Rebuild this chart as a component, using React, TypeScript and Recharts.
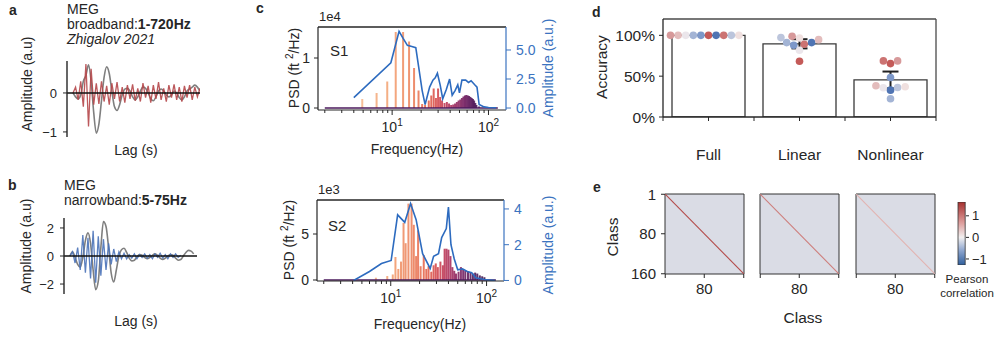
import React from "react";
import {
  ComposedChart,
  Line,
  Bar,
  Scatter,
  XAxis,
  YAxis,
  ReferenceLine,
  ReferenceArea,
  ErrorBar,
} from "recharts";

const FONT = '"Liberation Sans", Arial, Helvetica, sans-serif';
const INK = "#262626";
const AMP_BLUE = "#3b73c0";

// ---------------- a / b : lagged responses (a.u.), sampled every 10 ms ----------------
const LAG_STEP = 0.01;
const lagTicks = [0, 0.2, 0.4];

const broadbandGray = [
  0.0, -0.1, -0.15, -0.05, 0.3, 0.45, 0.72, 0.3, -0.5, -1.03,
  -0.8, -0.2, 0.4, 0.67, 0.5, 0.05, -0.35, -0.45, -0.3, -0.05,
  0.1, 0.12, 0.05, -0.1, -0.18, -0.1, 0.05, 0.15, 0.12, 0.0,
  -0.15, -0.2, -0.1, 0.05, 0.1, 0.05, -0.05, -0.1, -0.05, 0.05,
  0.0, -0.12, -0.18, -0.1, 0.05, 0.1, 0.15, 0.2, 0.15, 0.05,
];
const broadbandRed = [
  0.0, 0.15, -0.18, 0.3, -0.35, 0.74, -0.86, 0.62, -0.3, 0.25,
  -0.28, 0.3, -0.22, 0.18, -0.3, 0.25, -0.15, 0.28, -0.22, 0.15,
  -0.25, 0.2, -0.15, 0.22, -0.2, 0.12, -0.22, 0.25, -0.12, 0.18,
  -0.25, 0.2, -0.15, 0.28, -0.18, 0.12, -0.22, 0.2, -0.12, 0.22,
  -0.18, 0.15, -0.22, 0.18, -0.12, 0.2, -0.18, 0.15, -0.1, 0.12,
];
const narrowbandGray = [
  0.0, 0.3, -0.1, -0.6, -0.8, -0.1, 1.1, 1.65, 0.9, -1.0,
  -2.4, -1.8, 0.6, 2.45, 2.1, 0.6, -1.2, -1.85, -1.0, 0.0,
  0.45, 0.55, 0.25, -0.15, -0.35, -0.3, -0.05, 0.1, 0.05, -0.1,
  -0.2, -0.1, 0.05, 0.15, 0.05, -0.15, -0.25, -0.15, 0.0, 0.1,
  0.05, -0.15, -0.3, -0.25, 0.0, 0.25, 0.4, 0.35, 0.15,
];
const narrowbandBlue = [
  0.0, 0.3, -0.5, 0.6, -1.0, 1.5, -1.2, 1.3, -1.6, 1.8,
  -1.9, 1.4, -1.4, 1.2, -1.0, 0.9, -0.6, 0.5, -0.4, 0.3,
  -0.2, 0.2, -0.2, 0.1, -0.15, 0.15, -0.2, 0.1, -0.1, 0.15,
  -0.15, 0.1, -0.2, 0.15, -0.1, 0.2, -0.15, 0.1, -0.2, 0.15,
  -0.1, 0.15, -0.1, 0.05,
];

// ---------------- c : PSD spikes + amplitude spectrum ----------------
const freqTicks = [2, 3, 4, 5, 6, 7, 8, 9, 10, 20, 30, 40, 50, 60, 70, 80, 90, 100];
const FREQ_DOMAIN: [number, number] = [1.7, 152];
const psdBaseline = [2, 125];

const s1SpikeFreq = [
  4.9, 6.9, 8.9, 10.9, 13.0, 15.0, 16.9, 18.8, 20.5, 22, 24, 25.5, 27, 28.5, 30, 31.5,
  33, 35, 37, 39, 41, 43, 45, 47, 49, 51, 53, 55, 57, 59, 61, 63, 65, 67, 69, 71, 73, 75, 80,
];
const s1SpikePsd = [
  1800, 3000, 5300, 15200, 15200, 13300, 8000, 3500, 800, 600, 1500, 2500, 3900, 2000, 3900, 2200,
  1500, 1000, 1200, 900, 600, 700, 900, 1200, 1500, 1700, 2000, 2300, 2500, 2600, 2500, 2400, 2200,
  2000, 1800, 1500, 1000, 600, 300,
];
const s1AmpFreq = [
  4.0, 9.7, 11.8, 13.0, 14.4, 16.0, 17.6, 20.5, 22.0, 24.5, 26.5, 28.0, 29.5, 31.5, 33.5, 36.5,
  39.5, 42.0, 45.0, 48.0, 50.0, 53.0, 58.0, 62.0, 66.0, 72.0, 76.0, 80.0, 90.0, 100.0, 120.0,
];
const s1Amp = [
  0.9, 3.9, 6.6, 6.0, 5.4, 5.3, 5.2, 1.5, 0.3, 1.8, 2.4, 2.6, 3.0, 2.0, 0.8, 1.6,
  2.5, 1.1, 1.5, 2.0, 1.3, 2.4, 2.4, 2.2, 2.35, 2.0, 1.8, 0.3, 0.1, 0.05, 0.03,
];

const s2SpikeFreq = [
  7.0, 9.2, 10.5, 11.2, 12.0, 12.8, 13.6, 14.3, 15.3, 16.5, 17.4, 18.4, 19.3, 20.5, 22.1, 23.5,
  24.8, 26.5, 28, 29.5, 31, 33, 35, 36.5, 38.2, 40, 42, 44, 46, 48, 51, 54, 57, 60, 64, 68, 72,
  76, 80, 85, 90, 95,
];
const s2SpikePsd = [
  250, 430, 600, 2500, 1200, 2000, 6200, 4000, 8300, 8300, 6000, 2600, 5400, 1500, 2700, 1200,
  1500, 900, 1600, 1800, 1400, 2000, 1600, 3400, 3400, 3300, 2600, 1400, 1000, 700, 900, 1400,
  1200, 1000, 900, 800, 700, 800, 700, 500, 400, 300,
];
const s2AmpFreq = [
  4.1, 6.0, 8.0, 10.1, 11.8, 14.0, 16.1, 18.4, 21.5, 25.8, 28.0, 31.5, 34.0, 38.0, 40.0, 42.5,
  46.0, 50.0, 56.0, 63.0, 70.0, 77.0, 94.0, 123.0,
];
const s2Amp = [
  0.0, 0.5, 0.95, 1.12, 3.67, 3.25, 4.3, 3.4, 1.5, 0.67, 1.35, 1.5, 2.4, 2.9, 4.1, 2.0,
  1.2, 0.6, 0.65, 0.5, 0.43, 0.15, 0.05, 0.0,
];

// ---------------- d : decoding accuracy per subject ----------------
const conditions = ["Full", "Linear", "Nonlinear"];
const subjectColors = [
  "#c45a58", "#7d98c9", "#4f74b3", "#a3b4d5", "#cc7372",
  "#ebe6eb", "#bcc5dc", "#e3bcbc", "#f0e0df", "#d7999a",
];
const accFull = [1, 1, 1, 1, 1, 1, 1, 1, 1, 1];
const accLinear = [0.683, 0.878, 0.911, 0.911, 0.89, 0.817, 0.972, 0.947, 0.967, 0.988];
const accNonlinear = [0.654, 0.484, 0.329, 0.224, 0.687, 0.358, 0.362, 0.382, 0.37, 0.687];
const accTicks = [0, 0.5, 1];

// ---------------- e : class x class correlation ----------------
const nClass = 160;
const classTicks = [1, 80, 160];
const diagCorr = [1.4, 0.95, 0.5];
const corrTicks = [-1, 0, 1];
const CORR_DOMAIN: [number, number] = [-1.28, 1.64];

// ---------- helpers ----------
const minus = (v: number) => (v < 0 ? "\u2212" + Math.abs(v) : String(v));
const lagSeries = (vals: number[]) => vals.map((v, i) => ({ t: +(i * LAG_STEP).toFixed(3), v }));
const zip = (xs: number[], ys: number[], kx: string, ky: string) =>
  xs.map((x, i) => ({ [kx]: x, [ky]: ys[i] }));

type Stop = [number, number[]];
function interp(stops: Stop[], v: number, log: boolean) {
  const f = (u: number) => (log ? Math.log10(u) : u);
  if (v <= stops[0][0]) return `rgb(${stops[0][1].join(",")})`;
  for (let i = 1; i < stops.length; i++) {
    if (v <= stops[i][0]) {
      const t = (f(v) - f(stops[i - 1][0])) / (f(stops[i][0]) - f(stops[i - 1][0]));
      const c = stops[i - 1][1].map((a, k) => Math.round(a + (stops[i][1][k] - a) * t));
      return `rgb(${c.join(",")})`;
    }
  }
  return `rgb(${stops[stops.length - 1][1].join(",")})`;
}
const spikeStops: Stop[] = [
  [4, [247, 188, 145]], [10, [242, 160, 112]], [16, [236, 130, 92]], [24, [228, 94, 70]],
  [32, [206, 62, 76]], [42, [166, 42, 90]], [55, [118, 30, 96]], [75, [72, 22, 86]], [120, [48, 16, 70]],
];
const corrStops: Stop[] = [
  [-1.28, [47, 95, 157]], [-0.6, [142, 166, 207]], [0, [242, 240, 240]],
  [0.7, [220, 154, 152]], [1.64, [166, 48, 47]],
];
const spikeColor = (f: number) => interp(spikeStops, f, true);
const corrColor = (v: number) => interp(corrStops, v, false);

const mean = (a: number[]) => a.reduce((s, v) => s + v, 0) / a.length;
const ci95 = (a: number[]) => {
  const m = mean(a);
  const sd = Math.sqrt(a.reduce((s, v) => s + (v - m) ** 2, 0) / (a.length - 1));
  return (1.96 * sd) / Math.sqrt(a.length);
};

// beeswarm offsets in pixels (points sorted by value, closest free slot to the centre)
function swarm(values: number[], pxPerUnit: number, d: number) {
  const order = values.map((_, i) => i).sort((a, b) => values[a] - values[b]);
  const placed: { x: number; y: number }[] = [];
  const out = new Array(values.length).fill(0);
  for (const i of order) {
    const y = values[i] * pxPerUnit;
    const cands = [0];
    for (const p of placed) {
      const dy = Math.abs(p.y - y);
      if (dy < d) {
        const dx = Math.sqrt(d * d - dy * dy);
        cands.push(p.x + dx, p.x - dx);
      }
    }
    cands.sort((a, b) => Math.abs(a) - Math.abs(b) || a - b);
    const x =
      cands.find((c) => placed.every((p) => (p.x - c) ** 2 + (p.y - y) ** 2 >= d * d - 1e-6)) ?? 0;
    placed.push({ x, y });
    out[i] = x;
  }
  return out;
}

const tickStyle = (size: number, fill = INK) => ({ fontSize: size, fill, fontFamily: FONT });

// ---------- a / b ----------
function LagPanel(props: {
  top: number; h: number; yw: number; mTop: number; mBottom: number; mRight: number;
  yDomain: [number, number]; yTicks: number[]; xDomain: [number, number];
  gray: number[]; fast: number[]; fastColor: string;
}) {
  const { top, h, yw, mTop, mBottom, mRight, yDomain, yTicks, xDomain } = props;
  const plotH = h - mTop - mBottom;
  const zeroY = mTop + (plotH * yDomain[1]) / (yDomain[1] - yDomain[0]);
  return (
    <div style={{ position: "absolute", left: 0, top }}>
      <ComposedChart width={215} height={h} margin={{ top: mTop, right: mRight, bottom: mBottom, left: 0 }}>
        <XAxis
          type="number" dataKey="t" domain={xDomain} allowDataOverflow ticks={lagTicks} interval={0}
          height={0} axisLine={false} tickLine={false}
          tick={(p: any) => (
            <text x={p.x} y={zeroY + 19} textAnchor="middle" fontSize={13} fill={INK} fontFamily={FONT}>
              {Number(p.payload.value).toFixed(1)}
            </text>
          )}
        />
        <YAxis
          type="number" domain={yDomain} allowDataOverflow ticks={yTicks} interval={0} width={yw}
          tickFormatter={minus} tick={tickStyle(13)} tickSize={4} tickMargin={6}
          axisLine={{ stroke: INK, strokeWidth: 1.4 }} tickLine={{ stroke: INK }}
        />
        <Line data={lagSeries(props.gray)} dataKey="v" type="monotone" stroke="#7f7f7f"
          strokeWidth={1.6} dot={false} isAnimationActive={false} />
        <Line data={lagSeries(props.fast)} dataKey="v" type="linear" stroke={props.fastColor}
          strokeWidth={1.3} strokeOpacity={0.9} dot={false} isAnimationActive={false} />
        <ReferenceLine y={0} stroke="#111" strokeWidth={1.6} />
      </ComposedChart>
    </div>
  );
}

// ---------- c ----------
function FreqTick(p: any) {
  const { x, y, payload } = p;
  const v = payload.value;
  const major = v === 10 || v === 100;
  return (
    <g>
      <line x1={x} x2={x} y1={y} y2={y + (major ? 5 : 3)} stroke={INK} strokeWidth={1} />
      {major && (
        <text x={x} y={y + 22} textAnchor="middle" fontSize={14} fill={INK} fontFamily={FONT}>
          10<tspan dy={-6} fontSize={10}>{v === 10 ? 1 : 2}</tspan>
        </text>
      )}
    </g>
  );
}

function Spike(p: any) {
  const { x, y, width, height, payload } = p;
  if (!isFinite(x) || !isFinite(y) || !isFinite(height)) return null;
  const cx = x + width / 2;
  return (
    <rect x={cx - 1} y={y} width={2} height={Math.max(height, 0)}
      fill={spikeColor(payload.f)} fillOpacity={0.88} />
  );
}

function PsdPanel(props: {
  top: number; yw: number; rw: number; mTop: number; mBottom: number;
  spikeF: number[]; spikeP: number[]; ampF: number[]; amp: number[];
  psdDomain: [number, number]; psdTicks: number[]; psdScale: number;
  ampDomain: [number, number]; ampTicks: number[]; ampFmt: (v: number) => string;
}) {
  const spikes = zip(props.spikeF, props.spikeP, "f", "p");
  const ampLine = zip(props.ampF, props.amp, "f", "a");
  return (
    <div style={{ position: "absolute", left: 240, top: props.top }}>
      <ComposedChart width={320} height={170} data={spikes}
        margin={{ top: props.mTop, right: 0, bottom: props.mBottom, left: 0 }}>
        <XAxis
          xAxisId="f" type="number" dataKey="f" scale="log" domain={FREQ_DOMAIN} allowDataOverflow
          ticks={freqTicks} interval={0} tick={<FreqTick />} tickLine={false} tickSize={0} tickMargin={0}
          height={20} axisLine={{ stroke: INK, strokeWidth: 1.2 }}
        />
        <YAxis
          yAxisId="psd" type="number" domain={props.psdDomain} allowDataOverflow ticks={props.psdTicks}
          interval={0} width={props.yw} tickFormatter={(v: number) => String(v / props.psdScale)}
          tick={tickStyle(14)} tickSize={4} tickMargin={4}
          axisLine={{ stroke: INK, strokeWidth: 1.2 }} tickLine={{ stroke: INK }}
        />
        <YAxis
          yAxisId="amp" orientation="right" type="number" domain={props.ampDomain} allowDataOverflow
          ticks={props.ampTicks} interval={0} width={props.rw} tickFormatter={props.ampFmt}
          tick={tickStyle(14, AMP_BLUE)} tickSize={5} tickMargin={5}
          axisLine={{ stroke: AMP_BLUE, strokeWidth: 1.2 }} tickLine={{ stroke: AMP_BLUE }}
        />
        <ReferenceLine xAxisId="f" yAxisId="psd" y={props.psdDomain[1]} stroke={INK} strokeWidth={1.4}
          ifOverflow="visible" />
        <Bar xAxisId="f" yAxisId="psd" dataKey="p" barSize={3} shape={<Spike />} isAnimationActive={false} />
        <ReferenceLine xAxisId="f" yAxisId="psd" stroke="#4b1a5c" strokeWidth={1.5}
          segment={[{ x: psdBaseline[0], y: 0 }, { x: psdBaseline[1], y: 0 }]} />
        <Line xAxisId="f" yAxisId="amp" data={ampLine} dataKey="a" type="linear" stroke="#2d6bbf"
          strokeWidth={1.6} dot={false} isAnimationActive={false} />
      </ComposedChart>
    </div>
  );
}

// ---------- d ----------
const D_W = 380;
const D_H = 170;
const D_M = { top: 19, right: 24, bottom: 13, left: 0 };
const D_YW = 83;
const D_XH = 40;
const D_YMAX = 1.2;
const DOT_D = 7.6;
const dPlotW = D_W - D_M.left - D_M.right - D_YW;
const dPlotH = D_H - D_M.top - D_M.bottom - D_XH;
const accByCondition = [accFull, accLinear, accNonlinear];
const barData = conditions.map((name, i) => ({
  name,
  mean: mean(accByCondition[i]),
  err: ci95(accByCondition[i]),
}));
const dotData = accByCondition.flatMap((vals, ci) => {
  const offs = swarm(vals, dPlotH / D_YMAX, DOT_D);
  return vals.map((v, k) => ({ x: ci + offs[k] / (dPlotW / conditions.length), y: v, color: subjectColors[k] }));
});

function CondTick(p: any) {
  const v = p.payload.value;
  const label = Number.isInteger(v) ? conditions[v] : "";
  return (
    <text x={p.x} y={p.y + 37} textAnchor="middle" fontSize={15.5} fill={INK} fontFamily={FONT}>
      {label}
    </text>
  );
}

function AccuracyPanel() {
  return (
    <div style={{ position: "absolute", left: 580, top: 0 }}>
      <ComposedChart width={D_W} height={D_H} data={barData} margin={D_M}>
        <XAxis xAxisId="cat" dataKey="name" type="category" hide height={0} />
        <XAxis
          xAxisId="num" dataKey="x" type="number" domain={[-0.5, 2.5]} allowDataOverflow
          ticks={[-0.5, 0, 0.5, 1, 1.5, 2, 2.5]} interval={0} height={D_XH} tick={<CondTick />}
          tickSize={4} tickMargin={2} axisLine={{ stroke: INK, strokeWidth: 1.3 }} tickLine={{ stroke: INK }}
        />
        <YAxis
          yAxisId="acc" dataKey="y" type="number" domain={[0, D_YMAX]} allowDataOverflow ticks={accTicks}
          interval={0} width={D_YW} tickFormatter={(v: number) => `${Math.round(v * 100)}%`}
          tick={tickStyle(15.5)} tickSize={4} tickMargin={4}
          axisLine={{ stroke: INK, strokeWidth: 1.3 }} tickLine={{ stroke: INK }}
        />
        <ReferenceLine xAxisId="num" yAxisId="acc" y={D_YMAX} stroke="#4a4a4a" strokeWidth={1.3} ifOverflow="visible" />
        <ReferenceLine xAxisId="num" yAxisId="acc" x={2.5} stroke="#4a4a4a" strokeWidth={1.3} ifOverflow="visible" />
        <Bar xAxisId="cat" yAxisId="acc" dataKey="mean" barSize={73} fill="#ffffff" stroke="#3a3a3a"
          strokeWidth={1.3} isAnimationActive={false}>
          <ErrorBar dataKey="err" width={8} strokeWidth={2} stroke="#222" direction="y" />
        </Bar>
        <Scatter
          xAxisId="num" yAxisId="acc" data={dotData} isAnimationActive={false}
          shape={(p: any) => <circle cx={p.cx} cy={p.cy} r={DOT_D / 2} fill={p.payload.color} />}
        />
      </ComposedChart>
    </div>
  );
}

// ---------- e ----------
function CorrPanel(props: { left: number; yw: number; w: number; diag: number; labels: boolean }) {
  const diagLine = [{ c: 1, r: 1 }, { c: nClass, r: nClass }];
  const dom: [number, number] = [0.5, nClass + 0.5];
  return (
    <div style={{ position: "absolute", left: props.left, top: 170 }}>
      <ComposedChart width={props.w} height={168} margin={{ top: 24, right: props.w - props.yw - 79, bottom: 34, left: 0 }}>
        <XAxis
          type="number" dataKey="c" domain={dom} allowDataOverflow ticks={classTicks} interval={0}
          tickFormatter={(v: number) => (v === 80 ? "80" : "")} tick={tickStyle(15)} tickSize={4}
          tickMargin={5} height={30} axisLine={false} tickLine={{ stroke: INK }}
        />
        <YAxis
          type="number" dataKey="r" reversed domain={dom} allowDataOverflow ticks={classTicks} interval={0}
          width={props.yw} tick={props.labels ? tickStyle(15) : false} tickSize={4} tickMargin={5}
          axisLine={false} tickLine={{ stroke: INK }}
        />
        <ReferenceArea x1={dom[0]} x2={dom[1]} y1={dom[0]} y2={dom[1]} fill="#dadce5" fillOpacity={1}
          stroke="#333" strokeWidth={1} ifOverflow="visible" />
        <Line data={diagLine} dataKey="r" type="linear" stroke={corrColor(props.diag)} strokeWidth={1.1}
          dot={false} isAnimationActive={false} />
      </ComposedChart>
    </div>
  );
}

function Colorbar() {
  const span = CORR_DOMAIN[1] - CORR_DOMAIN[0];
  const stopVals = corrStops.map((s) => s[0]).slice().reverse();
  const cbar = [{ k: "r", range: [CORR_DOMAIN[0], CORR_DOMAIN[1]] }];
  return (
    <div style={{ position: "absolute", left: 940, top: 170 }}>
      <ComposedChart width={58} height={168} data={cbar} margin={{ top: 32, right: 0, bottom: 73, left: 18 }}>
        <defs>
          <linearGradient id="corrGrad" x1="0" y1="0" x2="0" y2="1">
            {stopVals.map((v) => (
              <stop key={v} offset={`${((CORR_DOMAIN[1] - v) / span) * 100}%`} stopColor={corrColor(v)} />
            ))}
          </linearGradient>
        </defs>
        <XAxis dataKey="k" type="category" hide height={0} />
        <YAxis
          orientation="right" type="number" domain={CORR_DOMAIN} allowDataOverflow
          ticks={corrTicks} interval={0} width={32} tickFormatter={minus} tick={tickStyle(13)}
          tickSize={3} tickMargin={3} axisLine={false} tickLine={{ stroke: INK }}
        />
        <Bar dataKey="range" barSize={8} fill="url(#corrGrad)" stroke="#333" strokeWidth={0.8}
          isAnimationActive={false} />
      </ComposedChart>
    </div>
  );
}

// ---------- text overlay ----------
function T(p: { x: number; y: number; size?: number; anchor?: string; bold?: boolean; italic?: boolean; fill?: string; children: any }) {
  return (
    <text x={p.x} y={p.y} fontSize={p.size ?? 14} textAnchor={(p.anchor as any) ?? "start"}
      fontWeight={p.bold ? "bold" : "normal"} fontStyle={p.italic ? "italic" : "normal"} fill={p.fill ?? INK}>
      {p.children}
    </text>
  );
}
function VT(p: { x: number; y: number; size?: number; fill?: string; children: any }) {
  return (
    <text transform={`translate(${p.x},${p.y}) rotate(-90)`} fontSize={p.size ?? 14} textAnchor="middle"
      dominantBaseline="central" fill={p.fill ?? INK}>
      {p.children}
    </text>
  );
}
const PsdLabel = () => (
  <>
    PSD (ft <tspan dy={-5} fontSize={10}>2</tspan>
    <tspan dy={5}>/Hz)</tspan>
  </>
);

export default function App() {
  return (
    <div style={{ position: "absolute", left: 0, top: 0, width: 998, height: 338, background: "#fff",
      overflow: "hidden", fontFamily: FONT }}>
      <LagPanel top={0} h={170} yw={67} mTop={61} mBottom={33} mRight={15} yDomain={[-1.13, 0.82]}
        yTicks={[-1, 0]} xDomain={[-0.023, 0.49]} gray={broadbandGray} fast={broadbandRed} fastColor="#b5474a" />
      <LagPanel top={170} h={168} yw={64} mTop={48} mBottom={44} mRight={18} yDomain={[-2.71, 2.71]}
        yTicks={[-2, 0, 2]} xDomain={[-0.023, 0.493]} gray={narrowbandGray} fast={narrowbandBlue} fastColor="#4a72b8" />

      <PsdPanel top={0} yw={78} rw={54} mTop={27} mBottom={40} spikeF={s1SpikeFreq} spikeP={s1SpikePsd}
        ampF={s1AmpFreq} amp={s1Amp} psdDomain={[-400, 16200]} psdTicks={[0, 10000]} psdScale={10000}
        ampDomain={[-0.17, 6.98]} ampTicks={[0, 2.5, 5]} ampFmt={(v) => v.toFixed(1)} />
      <PsdPanel top={170} yw={77} rw={56} mTop={30} mBottom={39} spikeF={s2SpikeFreq} spikeP={s2SpikePsd}
        ampF={s2AmpFreq} amp={s2Amp} psdDomain={[-109, 8696]} psdTicks={[0, 5000]} psdScale={1000}
        ampDomain={[-0.03, 4.5]} ampTicks={[0, 2, 4]} ampFmt={(v) => String(v)} />

      <AccuracyPanel />

      <CorrPanel left={580} yw={85} w={170} diag={diagCorr[0]} labels />
      <CorrPanel left={740} yw={20} w={110} diag={diagCorr[1]} labels={false} />
      <CorrPanel left={836} yw={20} w={110} diag={diagCorr[2]} labels={false} />
      <Colorbar />

      <svg width={998} height={338} style={{ position: "absolute", left: 0, top: 0, pointerEvents: "none" }}
        fontFamily={FONT}>
        <T x={9} y={15} bold>a</T>
        <T x={67} y={14}>MEG</T>
        <T x={67} y={29}>broadband:<tspan fontWeight="bold">1-720Hz</tspan></T>
        <T x={67} y={44} italic>Zhigalov 2021</T>
        <VT x={27} y={84}>Amplitude (a.u)</VT>
        <T x={136} y={155} anchor="middle">Lag (s)</T>

        <T x={8} y={190} bold>b</T>
        <T x={64} y={190}>MEG</T>
        <T x={64} y={205}>narrowband:<tspan fontWeight="bold">5-75Hz</tspan></T>
        <VT x={26} y={246}>Amplitude (a.u)</VT>
        <T x={136} y={326} anchor="middle">Lag (s)</T>

        <T x={256} y={13} bold>c</T>
        <T x={319} y={21} size={13}>1e4</T>
        <T x={330} y={56} size={15}>S1</T>
        <VT x={294} y={68}><PsdLabel /></VT>
        <VT x={548} y={68} fill={AMP_BLUE}>Amplitude (a.u.)</VT>
        <T x={417} y={154} anchor="middle">Frequency(Hz)</T>
        <T x={318} y={194} size={13}>1e3</T>
        <T x={328} y={231} size={15}>S2</T>
        <VT x={289} y={240}><PsdLabel /></VT>
        <VT x={548} y={245} fill={AMP_BLUE}>Amplitude (a.u.)</VT>
        <T x={420} y={329} anchor="middle">Frequency(Hz)</T>

        <T x={592} y={17} bold>d</T>
        <VT x={601} y={67} size={15.5}>Accuracy</VT>

        <T x={593} y={192} bold>e</T>
        <VT x={612} y={237} size={15.5}>Class</VT>
        <T x={803} y={323} anchor="middle" size={15.5}>Class</T>
        <T x={967} y={283} anchor="middle" size={11.5}>Pearson</T>
        <T x={967} y={297} anchor="middle" size={11.5}>correlation</T>
      </svg>
    </div>
  );
}
